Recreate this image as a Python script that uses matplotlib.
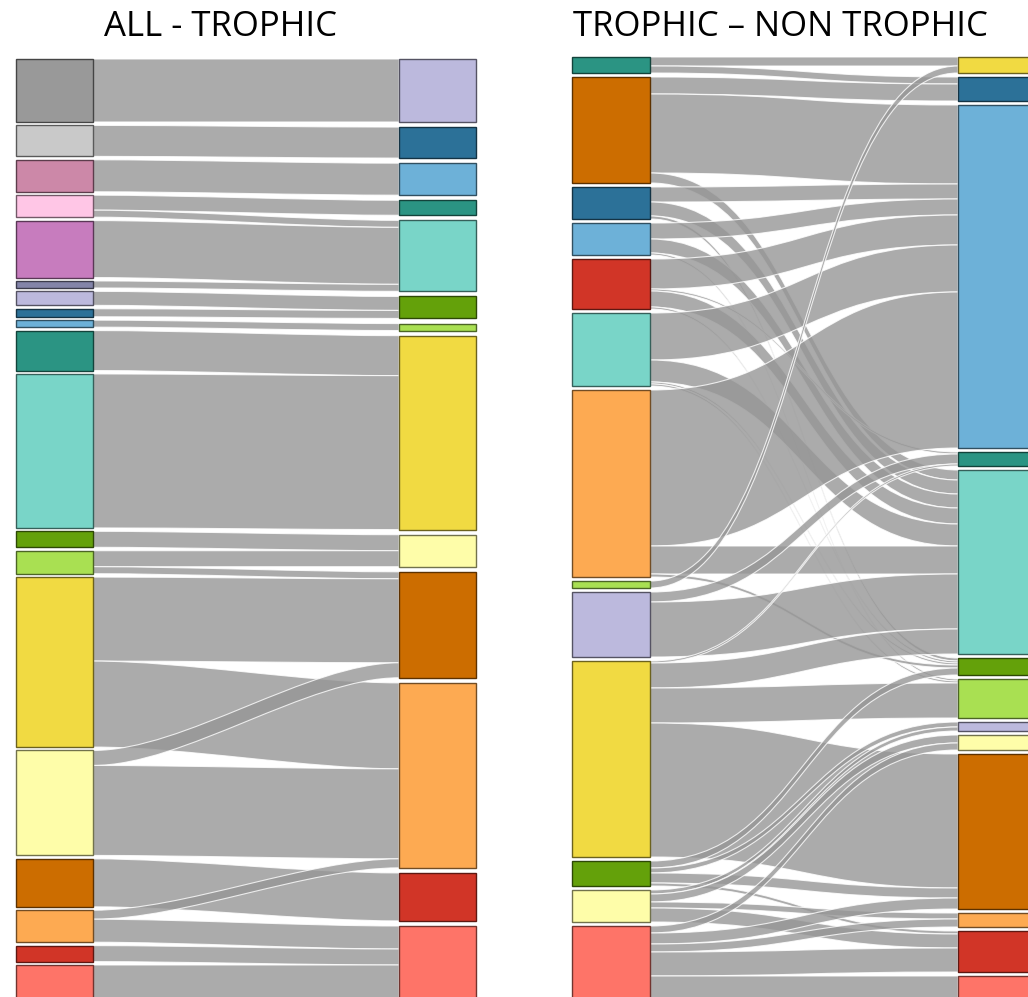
import numpy as np
import matplotlib.pyplot as plt
from matplotlib.path import Path
from matplotlib.patches import PathPatch, Rectangle
from matplotlib.colors import to_rgb

# colour of every group (shared by both diagrams)
group_colors = {
    'gray': '#999999', 'lightgray': '#c9c9c9', 'mauve': '#cc88a8',
    'pink': '#ffc6e6', 'orchid': '#c77cbe', 'slate': '#8384a9',
    'lavender': '#bcb9dd', 'darkblue': '#2c7198', 'lightblue': '#6db1d8',
    'darkteal': '#2b9483', 'turquoise': '#79d5c8', 'darkgreen': '#64a10a',
    'lightgreen': '#a9e052', 'yellow': '#f1da42', 'paleyellow': '#fefda9',
    'darkorange': '#cc6d00', 'lightorange': '#fdaa52', 'red': '#d13527',
    'salmon': '#fe7468',
}

# ALL -> TROPHIC
all_groups = ['gray', 'lightgray', 'mauve', 'pink', 'orchid', 'slate', 'lavender',
              'darkblue', 'lightblue', 'darkteal', 'turquoise', 'darkgreen',
              'lightgreen', 'yellow', 'paleyellow', 'darkorange', 'lightorange',
              'red', 'salmon']
trophic_groups_a = ['lavender', 'darkblue', 'lightblue', 'darkteal', 'turquoise',
                    'darkgreen', 'lightgreen', 'yellow', 'paleyellow', 'darkorange',
                    'lightorange', 'red', 'salmon']
flows_a = [
    ('gray', 'lavender', 63), ('lightgray', 'darkblue', 31),
    ('mauve', 'lightblue', 32), ('pink', 'darkteal', 15), ('pink', 'turquoise', 7),
    ('orchid', 'turquoise', 57), ('slate', 'turquoise', 7),
    ('lavender', 'darkgreen', 14), ('darkblue', 'darkgreen', 8),
    ('lightblue', 'lightgreen', 7), ('darkteal', 'yellow', 40),
    ('turquoise', 'yellow', 154), ('darkgreen', 'paleyellow', 16),
    ('lightgreen', 'paleyellow', 16), ('lightgreen', 'darkorange', 7),
    ('yellow', 'darkorange', 84), ('yellow', 'lightorange', 86),
    ('paleyellow', 'darkorange', 15), ('paleyellow', 'lightorange', 90),
    ('darkorange', 'red', 48), ('lightorange', 'lightorange', 9),
    ('lightorange', 'salmon', 23), ('red', 'salmon', 16), ('salmon', 'salmon', 36),
]

# TROPHIC -> NON TROPHIC
trophic_groups_b = ['darkteal', 'darkorange', 'darkblue', 'lightblue', 'red',
                    'turquoise', 'lightorange', 'lightgreen', 'lavender', 'yellow',
                    'darkgreen', 'paleyellow', 'salmon']
nontrophic_groups = ['yellow', 'darkblue', 'lightblue', 'darkteal', 'turquoise',
                     'darkgreen', 'lightgreen', 'lavender', 'paleyellow',
                     'darkorange', 'lightorange', 'red', 'salmon']
flows_b = [
    ('darkteal', 'yellow', 9), ('darkteal', 'darkblue', 7),
    ('darkorange', 'darkblue', 17), ('darkorange', 'lightblue', 79),
    ('darkorange', 'turquoise', 10),
    ('darkblue', 'lightblue', 15), ('darkblue', 'turquoise', 14),
    ('darkblue', 'darkgreen', 3),
    ('lightblue', 'lightblue', 16), ('lightblue', 'turquoise', 14),
    ('lightblue', 'lightgreen', 2),
    ('red', 'lightblue', 30), ('red', 'darkteal', 2), ('red', 'turquoise', 16),
    ('red', 'darkgreen', 2),
    ('turquoise', 'lightblue', 47), ('turquoise', 'turquoise', 22),
    ('turquoise', 'darkgreen', 2), ('turquoise', 'lightgreen', 2),
    ('lightorange', 'lightblue', 156), ('lightorange', 'turquoise', 28),
    ('lightorange', 'darkgreen', 3),
    ('lightgreen', 'yellow', 7),
    ('lavender', 'darkteal', 10), ('lavender', 'turquoise', 55),
    ('yellow', 'darkteal', 2), ('yellow', 'turquoise', 25),
    ('yellow', 'lightgreen', 35), ('yellow', 'darkorange', 134),
    ('darkgreen', 'darkgreen', 7), ('darkgreen', 'lavender', 5),
    ('darkgreen', 'darkorange', 10), ('darkgreen', 'red', 3),
    ('paleyellow', 'lavender', 4), ('paleyellow', 'paleyellow', 8),
    ('paleyellow', 'lightorange', 6), ('paleyellow', 'red', 14),
    ('salmon', 'paleyellow', 7), ('salmon', 'darkorange', 11),
    ('salmon', 'lightorange', 8), ('salmon', 'red', 24), ('salmon', 'salmon', 25),
]

LINK_COLOR = '#969696'


def darker(c, f=0.45):
    return tuple(v * f for v in to_rgb(c))


def column(groups, totals, top, k, gap):
    pos, y = {}, top
    for g in groups:
        h = totals[g] * k
        pos[g] = [y, y + h]
        y += h + gap
    return pos


def sankey(ax, left, right, flows, x0, x1, width, top, bottom, gap_left, curv):
    tot_l = {g: 0 for g in left}
    tot_r = {g: 0 for g in right}
    for s, t, v in flows:
        tot_l[s] += v
        tot_r[t] += v
    span = bottom - top
    k = (span - (len(left) - 1) * gap_left) / sum(tot_l.values())
    gap_right = (span - k * sum(tot_r.values())) / (len(right) - 1)
    pl = column(left, tot_l, top, k, gap_left)
    pr = column(right, tot_r, top, k, gap_right)

    # link ends: ordered by the node at the other end
    out_off = {g: pl[g][0] for g in left}
    in_off = {g: pr[g][0] for g in right}
    ends = {}
    for s, t, v in sorted(flows, key=lambda f: right.index(f[1])):
        ends[(s, t, 'a')] = out_off[s]
        out_off[s] += v * k
    for s, t, v in sorted(flows, key=lambda f: left.index(f[0])):
        ends[(s, t, 'b')] = in_off[t]
        in_off[t] += v * k

    xa, xb = x0 + width, x1
    ca, cb = xa + curv * (xb - xa), xb - curv * (xb - xa)
    for s, t, v in flows:
        h = v * k
        s0, t0 = ends[(s, t, 'a')], ends[(s, t, 'b')]
        s1, t1 = s0 + h, t0 + h
        verts = [(xa, s0), (ca, s0), (cb, t0), (xb, t0), (xb, t1),
                 (cb, t1), (ca, s1), (xa, s1), (xa, s0)]
        codes = [Path.MOVETO, Path.CURVE4, Path.CURVE4, Path.CURVE4, Path.LINETO,
                 Path.CURVE4, Path.CURVE4, Path.CURVE4, Path.CLOSEPOLY]
        ax.add_patch(PathPatch(Path(verts, codes), facecolor=LINK_COLOR,
                               edgecolor='white', lw=0.8, alpha=0.8, zorder=1))

    for pos, x in ((pl, x0), (pr, x1)):
        for g, (y0, y1) in pos.items():
            c = group_colors[g]
            ax.add_patch(Rectangle((x, y0), width, y1 - y0, facecolor=c,
                                   edgecolor=darker(c), lw=1.0, zorder=3))


fig = plt.figure(figsize=(10.28, 9.97), dpi=100)
ax = fig.add_axes([0, 0, 1, 1])
ax.set_xlim(0, 1028)
ax.set_ylim(997, 0)
ax.axis('off')

sankey(ax, all_groups, trophic_groups_a, flows_a, 16, 399, 77, 59, 1001, 3.4, 0.3)
sankey(ax, trophic_groups_b, nontrophic_groups, flows_b, 572, 958, 78, 57, 1001, 4.0, 0.5)

title_font = dict(family='Open Sans', fontsize=25, color='black', ha='center', va='center')
ax.text(220, 27, 'ALL - TROPHIC', **title_font)
ax.text(780, 27, 'TROPHIC \u2013 NON TROPHIC', **title_font)

fig.savefig('out.png', dpi=100)
